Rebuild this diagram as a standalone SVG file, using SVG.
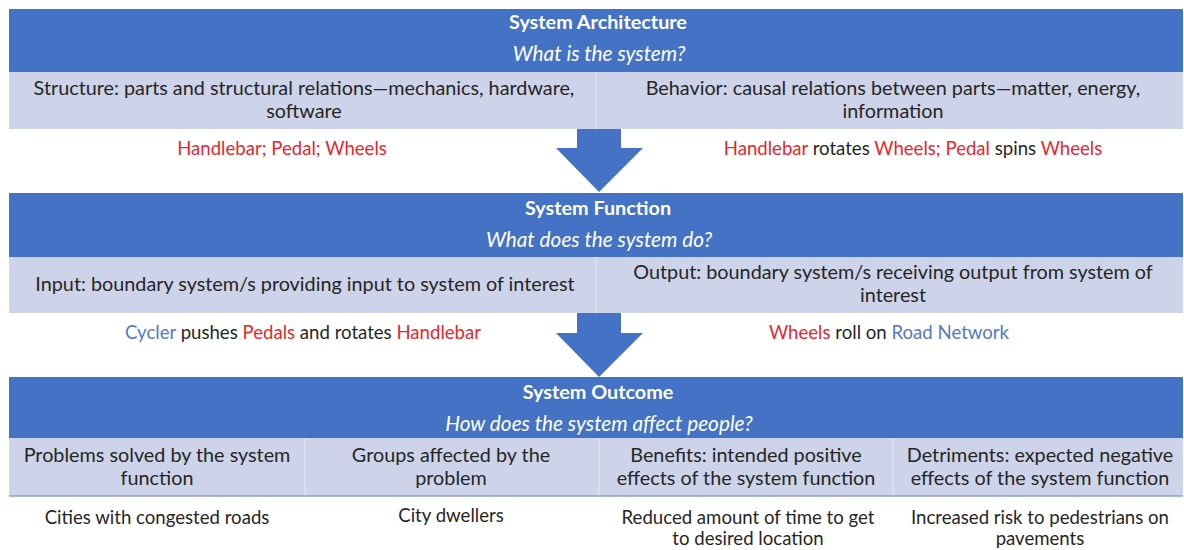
<svg xmlns="http://www.w3.org/2000/svg" width="1184" height="550" viewBox="0 0 1184 550">
<style>
.hdr{fill:#4472C4}
.band{fill:#CDD3E8}
.sep{stroke:#DDE1EF;stroke-width:1.5}
.t{font-family:Lato,"Open Sans","Liberation Sans",sans-serif;font-size:19.8px;fill:#262626;text-anchor:middle}
.s{font-size:18.6px}
.title{font-family:Lato,"Open Sans","Liberation Sans",sans-serif;font-size:19.8px;font-weight:bold;fill:#FFFFFF;text-anchor:middle}
.q{font-family:Lato,"Open Sans","Liberation Sans",sans-serif;font-size:20.8px;font-style:italic;fill:#FFFFFF;text-anchor:middle}
.r{fill:#E8262B}
.b{fill:#5479C6}
.arrow{fill:#4472C4}
</style>
<rect width="1184" height="550" fill="#FFFFFF"/>

<g id="architecture">
<rect class="hdr" x="9" y="9" width="1174" height="63"/>
<text class="title" x="598" y="29">System Architecture</text>
<text class="q" x="599" y="61">What is the system?</text>
<rect class="band" x="9" y="72" width="1174" height="57"/>
<line class="sep" x1="596" y1="72" x2="596" y2="129"/>
</g>
<g id="structure">
<text class="t" x="304" y="95">Structure: parts and structural relations—mechanics, hardware,</text>
<text class="t" x="304" y="118">software</text>
<text class="t s r" x="282" y="155">Handlebar; Pedal; Wheels</text>
</g>
<g id="behavior">
<text class="t" x="893" y="95">Behavior: causal relations between parts—matter, energy,</text>
<text class="t" x="893" y="118">information</text>
<text class="t s" x="913" y="155"><tspan class="r">Handlebar</tspan> rotates <tspan class="r">Wheels; Pedal</tspan> spins <tspan class="r">Wheels</tspan></text>
</g>

<g id="function">
<rect class="hdr" x="9" y="193" width="1174" height="64"/>
<text class="title" x="598" y="215">System Function</text>
<text class="q" x="599" y="247">What does the system do?</text>
<rect class="band" x="9" y="257" width="1174" height="56"/>
<line class="sep" x1="596" y1="257" x2="596" y2="313"/>
</g>
<g id="input">
<text class="t" x="305" y="291">Input: boundary system/s providing input to system of interest</text>
<text class="t s" x="303" y="339"><tspan class="b">Cycler</tspan> pushes <tspan class="r">Pedals</tspan> and rotates <tspan class="r">Handlebar</tspan></text>
</g>
<g id="output">
<text class="t" x="893" y="279">Output: boundary system/s receiving output from system of</text>
<text class="t" x="893" y="302">interest</text>
<text class="t s" x="889" y="339"><tspan class="r">Wheels</tspan> roll on <tspan class="b">Road Network</tspan></text>
</g>

<g id="outcome">
<rect class="hdr" x="9" y="377" width="1174" height="61"/>
<text class="title" x="598" y="399">System Outcome</text>
<text class="q" x="599" y="431">How does the system affect people?</text>
<rect class="band" x="9" y="438" width="1174" height="58"/>
<line class="sep" x1="305" y1="438" x2="305" y2="496"/>
<line class="sep" x1="599" y1="438" x2="599" y2="496"/>
<line class="sep" x1="893" y1="438" x2="893" y2="496"/>
<line x1="9" y1="496" x2="1183" y2="496" stroke="#8FA2D0" stroke-width="1.5"/>
</g>
<g id="problems">
<text class="t" x="157" y="462">Problems solved by the system</text>
<text class="t" x="157" y="485">function</text>
<text class="t s" x="157" y="524">Cities with congested roads</text>
</g>
<g id="groups">
<text class="t" x="451" y="462">Groups affected by the</text>
<text class="t" x="451" y="485">problem</text>
<text class="t s" x="451" y="522">City dwellers</text>
</g>
<g id="benefits">
<text class="t" x="746" y="462">Benefits: intended positive</text>
<text class="t" x="746" y="485">effects of the system function</text>
<text class="t s" x="748" y="524">Reduced amount of time to get</text>
<text class="t s" x="748" y="545">to desired location</text>
</g>
<g id="detriments">
<text class="t" x="1040" y="462">Detriments: expected negative</text>
<text class="t" x="1040" y="485">effects of the system function</text>
<text class="t s" x="1040" y="524">Increased risk to pedestrians on</text>
<text class="t s" x="1040" y="545">pavements</text>
</g>

<g id="connectors">
<polygon class="arrow" points="577,129 621,129 621,148 643,148 599,192 556,148 577,148"/>
<polygon class="arrow" points="577,313 621,313 621,333 643,333 599,377 556,333 577,333"/>
</g>
</svg>
